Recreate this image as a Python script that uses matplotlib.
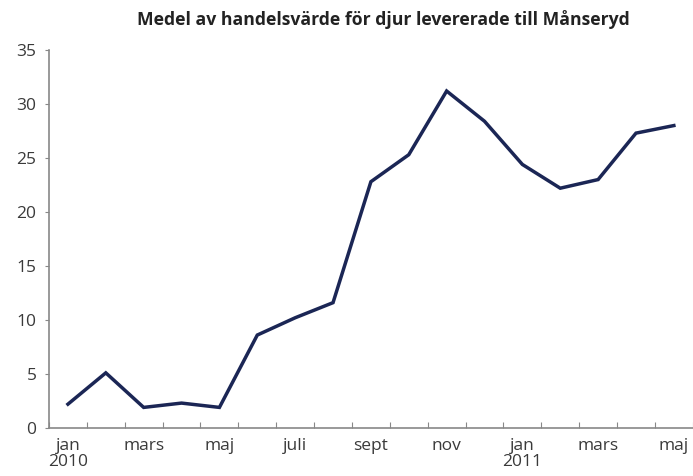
import matplotlib
matplotlib.use("Agg")
import matplotlib.pyplot as plt
import numpy as np

plt.rcParams['font.family'] = ['Open Sans', 'DejaVu Sans']

months = ["jan", "feb", "mars", "apr", "maj", "juni", "juli", "aug", "sept",
          "okt", "nov", "dec", "jan", "feb", "mars", "apr", "maj"]
values = [2.2, 5.1, 1.9, 2.3, 1.9, 8.6, 10.2, 11.6, 22.8,
          25.3, 31.2, 28.4, 24.4, 22.2, 23.0, 27.3, 28.0]
label_months = {0: "jan\n2010", 2: "mars", 4: "maj", 6: "juli", 8: "sept",
                10: "nov", 12: "jan\n2011", 14: "mars", 16: "maj"}
title = "Medel av handelsvärde för djur levererade till Månseryd"

fig = plt.figure(figsize=(6.93, 4.76), dpi=100)
ax = fig.add_axes([0.0707, 0.101, 0.929, 0.794])

x = np.arange(len(values))
ax.plot(x, values, color="#1b2655", linewidth=2.5, solid_joinstyle="miter")

ax.set_xlim(-0.5, len(values) - 0.5)
ax.set_ylim(0, 35)
ax.set_yticks(np.arange(0, 36, 5))

ax.set_xticks(np.arange(-0.5, len(values), 1.0))
ax.set_xticklabels([])
ax.set_xticks(list(label_months.keys()), minor=True)
ax.set_xticklabels(list(label_months.values()), minor=True, linespacing=1.05)
ax.tick_params(axis="x", which="minor", length=0, pad=7, labelsize=12.5, labelcolor="#3a3a3a")
ax.tick_params(axis="x", which="major", length=4, direction="in", color="#888888")
ax.tick_params(axis="y", length=3, direction="out", color="#888888", labelsize=12.5,
               labelcolor="#3a3a3a", pad=6)

for s in ["top", "right"]:
    ax.spines[s].set_visible(False)
for s in ["left", "bottom"]:
    ax.spines[s].set_color("#888888")
    ax.spines[s].set_linewidth(1.2)

fig.text(0.553, 0.958, title, ha="center", va="center", fontsize=12.7,
         fontweight="bold", color="#222222")

fig.savefig("out.png", dpi=100)
